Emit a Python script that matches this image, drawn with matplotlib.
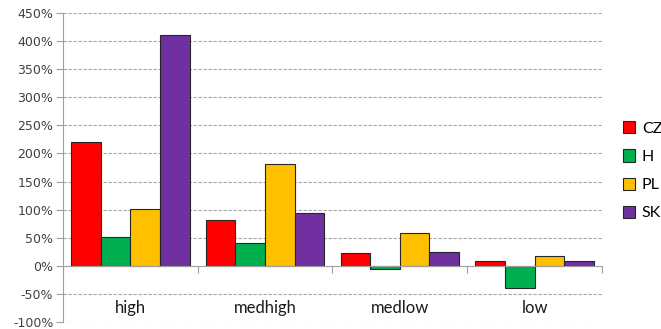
import numpy as np
import matplotlib.pyplot as plt
from matplotlib.ticker import FuncFormatter, MultipleLocator

# growth by technology level, percent
categories = ['high', 'medhigh', 'medlow', 'low']
countries = ['CZ', 'H', 'PL', 'SK']
cz = [221, 81, 23, 9]
h = [52, 40, -5, -40]
pl = [102, 181, 59, 18]
sk = [411, 95, 25, 8]
colors = ['#FF0000', '#00B050', '#FFC000', '#7030A0']

series = [cz, h, pl, sk]

fig = plt.figure(figsize=(6.61, 3.29), dpi=100)
ax = fig.add_axes([0.0953, 0.021, 0.8154, 0.9395])

x = np.arange(len(categories))
w = 0.22
for i, vals in enumerate(series):
    ax.bar(x + (i - 1.5) * w, vals, w, color=colors[i], edgecolor='#262626',
           linewidth=0.8, label=countries[i], zorder=3)

ax.set_ylim(-100, 450)
ax.set_xlim(-0.5, len(categories) - 0.5)
ax.yaxis.set_major_locator(MultipleLocator(50))
ax.yaxis.set_major_formatter(FuncFormatter(lambda v, p: f'{v:.0f}%'))
ax.tick_params(axis='y', length=5, color='#a0a0a0', labelsize=9,
               labelcolor='#404040', pad=2)

# dashed grid, but the zero line is the category axis
for v in np.arange(-100, 451, 50):
    if v != 0:
        ax.axhline(v, color='#a6a6a6', linestyle=(0, (3, 1.5)), linewidth=0.8, zorder=1)

for s in ['top', 'right']:
    ax.spines[s].set_visible(False)
ax.spines['left'].set_color('#a0a0a0')
ax.spines['bottom'].set_position(('data', 0))
ax.spines['bottom'].set_color('#a0a0a0')
ax.spines['bottom'].set_zorder(4)
ax.set_xticks(np.arange(len(categories) + 1) - 0.5)
ax.set_xticklabels([])
ax.tick_params(axis='x', length=5, color='#a0a0a0')

for i, c in enumerate(categories):
    ax.text(i, -75, c, ha='center', va='center', fontsize=12,
            family='Lato', color='#1a1a1a')

fig.legend(loc='upper left', bbox_to_anchor=(0.942, 0.632), frameon=False,
           prop={'family': 'Lato', 'size': 11.5}, handlelength=0.8, handleheight=0.8,
           handletextpad=0.4, labelspacing=0.85, borderaxespad=0, borderpad=0)

fig.savefig('out.png', dpi=100)
